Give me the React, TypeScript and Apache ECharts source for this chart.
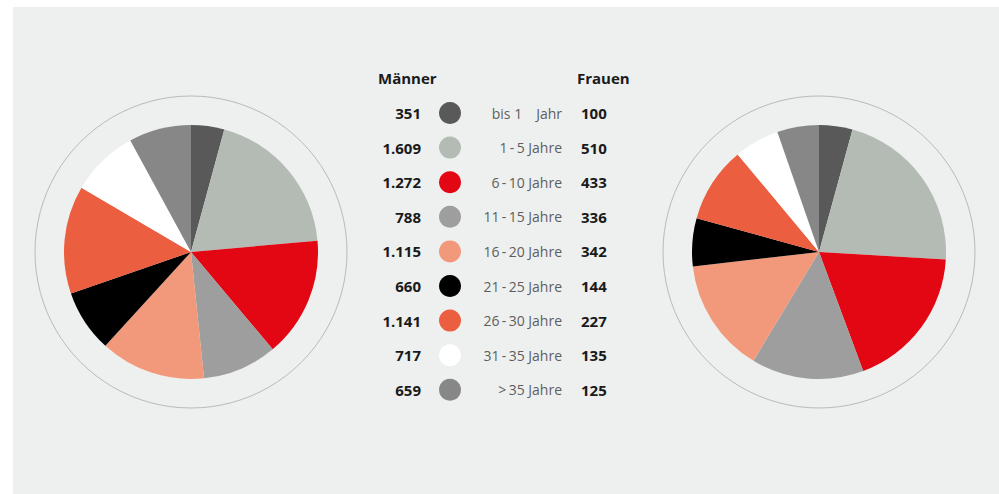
import React, { useEffect, useRef } from "react";
import * as echarts from "echarts";

const categories = [
  "bis 1\u2003Jahr",
  "1\u2009-\u20095 Jahre",
  "6\u2009-\u200910 Jahre",
  "11\u2009-\u200915 Jahre",
  "16\u2009-\u200920 Jahre",
  "21\u2009-\u200925 Jahre",
  "26\u2009-\u200930 Jahre",
  "31\u2009-\u200935 Jahre",
  ">\u200935 Jahre",
];
const maenner = [351, 1609, 1272, 788, 1115, 660, 1141, 717, 659];
const frauen = [100, 510, 433, 336, 342, 144, 227, 135, 125];
const colors = [
  "#595959",
  "#b4bbb5",
  "#e30613",
  "#9d9e9d",
  "#f3997b",
  "#000000",
  "#eb5e3f",
  "#ffffff",
  "#878787",
];

const fmt = (v: number) =>
  v >= 1000 ? `${Math.floor(v / 1000)}.${String(v % 1000).padStart(3, "0")}` : String(v);

const FONT = "'Open Sans', 'Noto Sans', sans-serif";

export default function App() {
  const ref = useRef<HTMLDivElement>(null);
  useEffect(() => {
    if (!ref.current) return;
    const chart = echarts.init(ref.current, undefined, { renderer: "svg" });
    const rowY = (i: number) => 113 + i * 34.6;
    const graphics: any[] = [
      {
        type: "rect",
        silent: true,
        z: -10,
        shape: { x: 13, y: 7, width: 999 - 13, height: 494 - 7 },
        style: { fill: "#eef0ef" },
      },
      {
        type: "circle",
        silent: true,
        z: -5,
        shape: { cx: 191, cy: 252, r: 156 },
        style: { fill: "none", stroke: "#b7bbb9", lineWidth: 1 },
      },
      {
        type: "circle",
        silent: true,
        z: -5,
        shape: { cx: 819, cy: 252, r: 156 },
        style: { fill: "none", stroke: "#b7bbb9", lineWidth: 1 },
      },
      {
        type: "text",
        x: 378,
        y: 78,
        style: {
          text: "Männer",
          font: `bold 15px ${FONT}`,
          fill: "#1a1a1a",
          textAlign: "left",
          textVerticalAlign: "middle",
        },
      },
      {
        type: "text",
        x: 577,
        y: 78,
        style: {
          text: "Frauen",
          font: `bold 15px ${FONT}`,
          fill: "#1a1a1a",
          textAlign: "left",
          textVerticalAlign: "middle",
        },
      },
    ];
    categories.forEach((c, i) => {
      const y = rowY(i);
      graphics.push(
        {
          type: "text",
          x: 421,
          y,
          style: {
            text: fmt(maenner[i]),
            font: `bold 15px ${FONT}`,
            fill: "#1a1a1a",
            textAlign: "right",
            textVerticalAlign: "middle",
          },
        },
        {
          type: "circle",
          shape: { cx: 450, cy: y, r: 11 },
          style: { fill: colors[i] },
        },
        {
          type: "text",
          x: 562,
          y,
          style: {
            text: c,
            font: `normal 14px ${FONT}`,
            fill: "#5e5e5e",
            textAlign: "right",
            textVerticalAlign: "middle",
          },
        },
        {
          type: "text",
          x: 581,
          y,
          style: {
            text: fmt(frauen[i]),
            font: `bold 15px ${FONT}`,
            fill: "#1a1a1a",
            textAlign: "left",
            textVerticalAlign: "middle",
          },
        }
      );
    });
    const pie = (name: string, values: number[], cx: number) => ({
      type: "pie",
      name,
      center: [cx, 252],
      radius: [0, 127],
      startAngle: 90,
      clockwise: true,
      label: { show: false },
      labelLine: { show: false },
      silent: true,
      itemStyle: { borderWidth: 0 },
      data: values.map((v, i) => ({
        name: categories[i],
        value: v,
        itemStyle: { color: colors[i] },
      })),
    });
    chart.setOption({
      animation: false,
      backgroundColor: "#ffffff",
      graphic: graphics,
      series: [pie("Männer", maenner, 191), pie("Frauen", frauen, 819)],
    });
    return () => chart.dispose();
  }, []);
  return (
    <div
      ref={ref}
      style={{ position: "fixed", left: 0, top: 0, width: 999, height: 494 }}
    />
  );
}
